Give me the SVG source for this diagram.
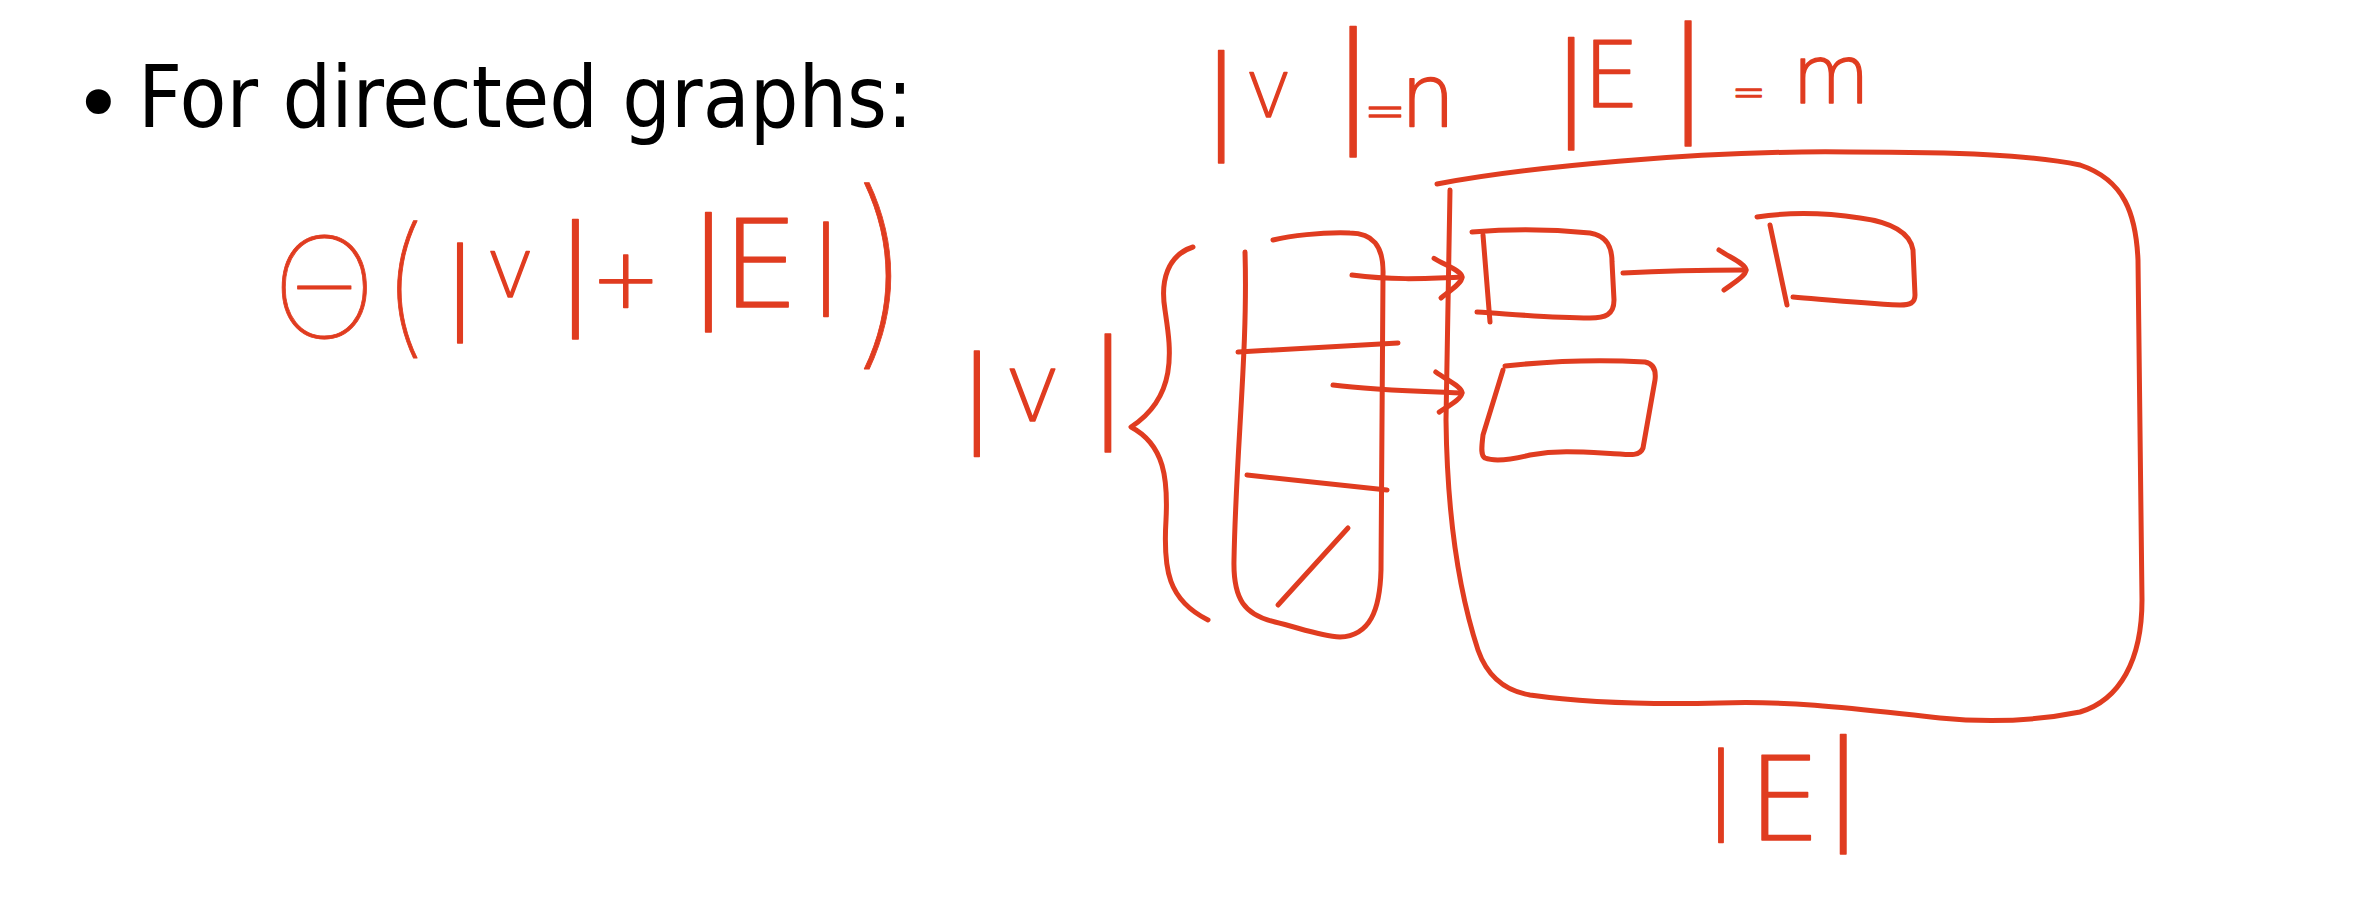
<svg xmlns="http://www.w3.org/2000/svg" width="2376" height="910" viewBox="0 0 2376 910">
<style>
.ink{fill:none;stroke:#e03c20;stroke-width:5;stroke-linecap:round;stroke-linejoin:round}
.hw{fill:#e03c20;stroke:#e03c20;stroke-width:1.4;stroke-linejoin:round;font-family:"DejaVu Sans","Liberation Sans",sans-serif;font-weight:200}
.lt{font-family:Inter,"DejaVu Sans",sans-serif;font-weight:100;stroke-width:0.8}
.slide{fill:#000;font-family:"DejaVu Sans","Liberation Sans",sans-serif}
</style>
<defs>
<marker id="hd" viewBox="-32 -26 38 52" refX="0" refY="0" markerWidth="38" markerHeight="52" markerUnits="userSpaceOnUse" orient="auto">
<path d="M-27,-20 C-15,-12 0,-6 0,0 C0,6 -14,14 -22,20" fill="none" stroke="#e03c20" stroke-width="5" stroke-linecap="round"/>
</marker>
</defs>
<rect width="2376" height="910" fill="#fff"/>

<g id="slide-text">
<text class="slide" x="73" y="133" font-size="86">•</text>
<text class="slide" x="138" y="127" font-size="85" textLength="775" lengthAdjust="spacingAndGlyphs">For directed graphs:</text>
</g>

<g id="complexity">
<text class="hw"><tspan class="lt" x="272" y="338" font-size="140">Θ</tspan><tspan class="lt" x="380" y="337" font-size="151">(</tspan><tspan x="443" y="319" font-size="100">|</tspan><tspan x="489" y="297" font-size="62">V</tspan><tspan x="555" y="311" font-size="120">|</tspan><tspan x="591" y="308" font-size="83">+</tspan><tspan x="688" y="304" font-size="120">|</tspan><tspan x="722" y="307" font-size="122">E</tspan><tspan x="810" y="294" font-size="94">|</tspan><tspan class="lt" x="850" y="341" font-size="205">)</tspan></text>
</g>

<g id="sizes">
<text class="hw"><tspan x="1202" y="136" font-size="113">|</tspan><tspan x="1248" y="117" font-size="60">V</tspan><tspan x="1331" y="126" font-size="130">|</tspan><tspan x="1364" y="128" font-size="50">=</tspan><tspan x="1400" y="127" font-size="88">n</tspan><tspan x="1552" y="123" font-size="113">|</tspan><tspan x="1583" y="107" font-size="90">E</tspan><tspan x="1667" y="117" font-size="124">|</tspan><tspan x="1732" y="106" font-size="40">=</tspan><tspan x="1792" y="103" font-size="80">m</tspan></text>
</g>

<g id="v-label">
<text class="hw"><tspan x="959" y="431" font-size="105">|</tspan><tspan x="1008" y="421" font-size="72">V</tspan><tspan x="1088" y="424" font-size="117">|</tspan></text>
<path class="ink" d="M1193,247 C1168,255 1160,280 1165,310 C1170,345 1180,395 1131,427 C1165,445 1168,480 1166,520 C1163,570 1168,600 1208,620"/>
</g>

<g id="vertex-array">
<path class="ink" d="M1245,252 C1248,350 1236,450 1234,560 C1233,600 1245,615 1275,622 C1300,628 1320,636 1340,637 C1370,636 1380,610 1381,570 L1383,275 C1384,245 1372,233 1350,233 C1320,232 1290,236 1273,240"/>
<path class="ink" d="M1238,352 L1398,343"/>
<path class="ink" d="M1247,475 L1387,490"/>
<path class="ink" d="M1348,528 L1278,605"/>
</g>

<g id="edge-area">
<path class="ink" d="M1437,184 C1520,168 1700,150 1850,152 C1960,152 2030,155 2080,165 C2125,180 2136,215 2138,260 L2142,600 C2142,660 2120,700 2080,712 C2030,722 1980,722 1940,718 C1880,712 1800,700 1720,703 C1640,705 1580,702 1530,695 C1500,690 1485,670 1478,650 C1455,580 1447,500 1446,420 L1450,190"/>
</g>

<g id="node-a">
<path class="ink" d="M1472,232 C1520,228 1560,230 1590,233 C1608,236 1612,248 1612,262 L1614,300 C1614,315 1605,318 1590,318 C1550,318 1510,314 1477,312"/>
<path class="ink" d="M1483,235 L1490,322"/>
</g>

<g id="node-b">
<path class="ink" d="M1757,217 C1790,212 1820,212 1860,218 C1890,222 1910,232 1913,250 L1915,295 C1915,303 1910,305 1900,305 C1860,303 1830,300 1793,297"/>
<path class="ink" d="M1770,225 L1787,305"/>
</g>

<g id="node-c">
<path class="ink" d="M1505,366 C1560,360 1610,360 1645,362 C1655,364 1656,372 1655,380 L1643,448 C1640,456 1630,455 1620,454 C1580,452 1560,450 1530,455 C1510,460 1495,462 1485,458 C1480,455 1482,445 1483,435 L1503,370"/>
</g>

<g id="e-label">
<text class="hw"><tspan x="1705" y="820" font-size="94">|</tspan><tspan x="1748" y="840" font-size="115">E</tspan><tspan x="1823" y="826" font-size="119">|</tspan></text>
</g>

<g id="connectors">
<path class="ink" d="M1352,275 C1390,280 1420,279 1462,277" marker-end="url(#hd)"/>
<path class="ink" d="M1333,385 C1370,390 1410,391 1462,393" marker-end="url(#hd)"/>
<path class="ink" d="M1623,273 C1660,271 1700,270 1746,270" marker-end="url(#hd)"/>
</g>
</svg>
